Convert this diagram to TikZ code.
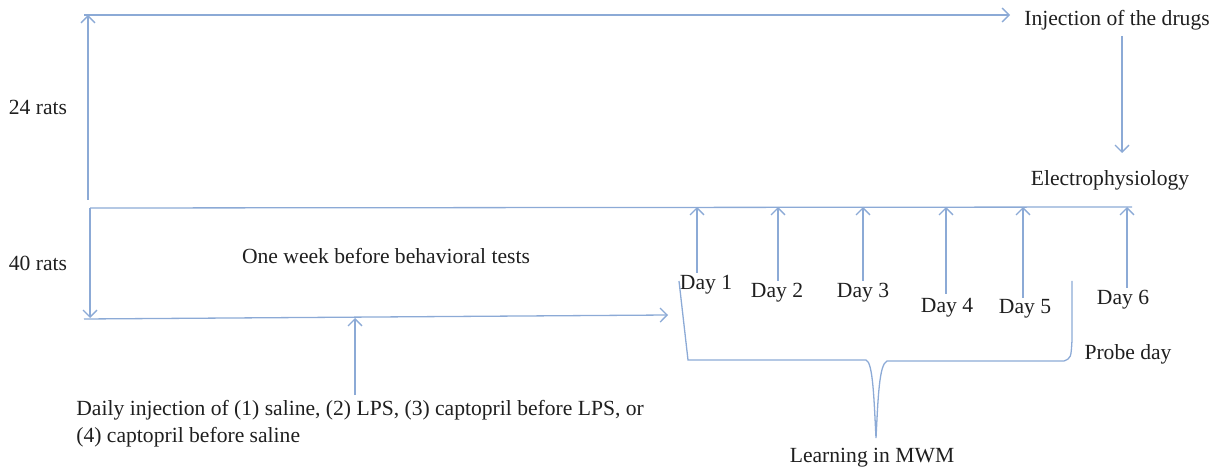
\documentclass[tikz,border=0pt]{standalone}
\usepackage{fontspec}
\setmainfont{Liberation Serif}
\usetikzlibrary{arrows.meta}
\definecolor{lineblue}{RGB}{140,170,214}

\begin{document}
\begin{tikzpicture}[x=0.5pt,y=-0.5pt,
  line/.style={draw=lineblue,line width=0.65pt},
  arr/.style={line,-{Straight Barb[length=3.5pt,width=7pt]}},
  lbl/.style={text=black!88,font=\fontsize{10.8}{13.5}\selectfont,inner sep=0}]
\useasboundingbox (0,0) rectangle (1215,470);

% group labels
\node[lbl] (r24) at (38,107) {24 rats};
\node[lbl] (r40) at (38,263) {40 rats};

% 24 rats: drugs then electrophysiology
\coordinate (up0) at (88,200);
\coordinate (up1) at (88,15);
\coordinate (top0) at (84,15);
\coordinate (top1) at (1010,15);
\node[lbl] (inj) at (1117,20) {Injection of the drugs};
\node[lbl] (elec) at (1110,180) {Electrophysiology};
\coordinate (dn0) at (1122,36);
\coordinate (dn1) at (1122,153);
\draw[arr] (up0) -- (up1);
\draw[line] (top0) -- (up1);
\draw[arr] (up1) -- (top1);
\draw[arr] (dn0) -- (dn1);

% 40 rats: one week, then MWM days
\coordinate (mid0) at (90,208);
\coordinate (mid1) at (1132,207);
\coordinate (low0) at (84,319);
\coordinate (low1) at (668,315);
\coordinate (inj0) at (355,395);
\coordinate (inj1) at (355,318);
\draw[line] (mid0) -- (mid1);
\draw[arr] (mid0) -- (90,318);
\draw[arr] (low0) -- (low1);
\draw[arr] (inj0) -- (inj1);
\node[lbl] (week) at (386,256) {One week before behavioral tests};
\node[lbl,align=left,anchor=north west] (daily) at (76,400)
  {Daily injection of (1) saline, (2) LPS, (3) captopril before LPS, or\\(4) captopril before saline};

\foreach \x/\yb/\lx/\ly/\n in {697/273/706/285/1, 778/281/777/293/2, 863/281/863/293/3,
    946/294/947/308/4, 1023/298/1025/309/5, 1127/288/1123/300/6}{%
  \node[lbl] (day\n) at (\lx,\ly) {Day \n};
  \draw[arr] (\x,\yb) -- (\x,207);}

% brace
\coordinate (br0) at (679,281);
\coordinate (br1) at (1072,281);
\draw[line] (br0) .. controls (683,320) .. (688,360) -- (866,360)
  .. controls (873,362) and (874,400) .. (876,438)
  .. controls (878,400) and (879,364) .. (887,361) -- (1064,361)
  .. controls (1071,358) .. (1072,340) -- (br1);
\node[lbl] (mwm) at (872,458) {Learning in MWM};
\node[lbl] (probe) at (1128,354) {Probe day};
\end{tikzpicture}
\end{document}
